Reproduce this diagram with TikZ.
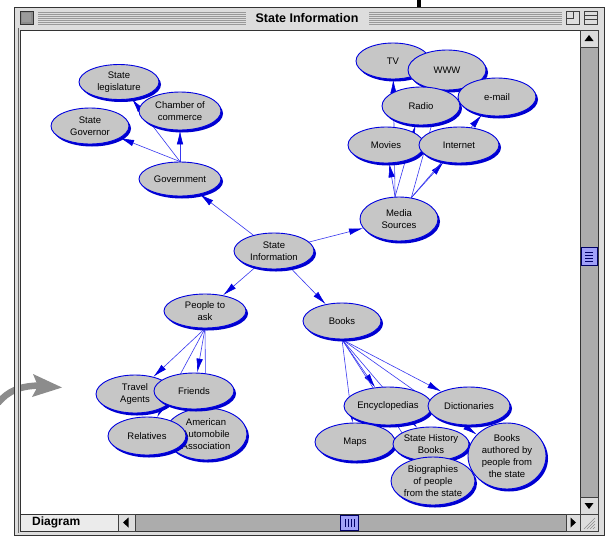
\documentclass[tikz,border=0pt]{standalone}
\usepackage{fontspec}
\setmainfont{Liberation Sans}
\usetikzlibrary{shapes.geometric,shadows,arrows.meta}
\pgfdeclarelayer{chromelayer}
\pgfdeclarelayer{wires}
\pgfsetlayers{chromelayer,wires,main}
\definecolor{nodegray}{HTML}{C6C6C6}
\definecolor{nodeblue}{HTML}{0000E0}
\definecolor{lineblue}{HTML}{3838F0}
\definecolor{shadowblue}{HTML}{0000D0}
\definecolor{chrome}{HTML}{DDDDDD}
\definecolor{track}{HTML}{ACACAC}
\definecolor{thumbc}{HTML}{A0A0F8}
\definecolor{arrowgray}{HTML}{8C8C8C}
\definecolor{stripe}{HTML}{999999}
\tikzset{
  bub/.style={ellipse, draw=nodeblue, line width=0.9pt, fill=nodegray,
    inner xsep=-16pt, inner ysep=-14pt, align=center,
    font=\fontsize{9.5}{11.8}\selectfont,
    drop shadow={shadow xshift=2pt, shadow yshift=-2.5pt, fill=shadowblue, opacity=1}},
  conn/.style={draw=lineblue, line width=0.6pt, -{Latex[length=14pt,width=6.5pt,color=nodeblue]}},
  boxc/.style={fill=chrome, draw=black!75, line width=0.6pt}
}
\newcommand{\bubble}[6]{\node[bub, minimum width=#4pt, minimum height=#5pt] (#1) at (#2,#3) {#6};}
\begin{document}
\begin{tikzpicture}[x=1pt,y=-1pt]
\useasboundingbox (0,0) rectangle (610,536);
\begin{pgfonlayer}{chromelayer}
  % black bar at top
  \fill[black] (417,0) rectangle (421,7);
  % window frame
  \draw[fill=chrome, draw=black!80, line width=1pt] (14,7) rectangle (604,535);
  % title bar stripes
  \foreach \yy in {12,14,...,24} {
    \draw[stripe, line width=0.6pt] (38,\yy) -- (246,\yy);
    \draw[stripe, line width=0.6pt] (369,\yy) -- (562,\yy);
  }
  \node[font=\bfseries\fontsize{12.5}{14}\selectfont, inner sep=0pt] (title) at (307,18) {State Information};
  % close box
  \draw[fill=black!45, draw=black!80, line width=0.6pt] (20,11) rectangle (33,24);
  \draw[fill=chrome!70!black, draw=none] (22,13) rectangle (31,22);
  % zoom and collapse boxes
  \draw[boxc] (566,11) rectangle (579,24);
  \draw[black!75, line width=0.6pt] (566,11) rectangle (573,18);
  \draw[boxc] (584,11) rectangle (597,24);
  \draw[black!75, line width=0.6pt] (584,15.5) -- (597,15.5) (584,19.5) -- (597,19.5);
  % content area
  \draw[fill=white, draw=black!80, line width=1pt] (20,30) rectangle (580,514);
  % gray arrow coming in from the left
  \draw[arrowgray, line width=6.5pt] (-2,403) .. controls (8,391) and (20,385.5) .. (42,385.5);
  \fill[arrowgray] (33,374) -- (62,387.5) -- (32,397) -- (38,386) -- cycle;
  % left frame strip drawn over the arrow
  \fill[chrome] (14.5,300) rectangle (19.5,460);
  \draw[black!80, line width=1pt] (14,7) -- (14,535);
  \draw[black!60, line width=0.8pt] (18,28) -- (18,533);
  \draw[black!80, line width=1pt] (20,30) -- (20,514);
  % vertical scrollbar
  \draw[fill=track, draw=black!80, line width=0.8pt] (580,30) rectangle (598,514);
  \draw[boxc] (580,30) rectangle (598,47);
  \fill[black] (589,35) -- (593.5,41) -- (584.5,41) -- cycle;
  \draw[boxc] (580,497) rectangle (598,514);
  \fill[black] (589,509) -- (593.5,503) -- (584.5,503) -- cycle;
  \draw[fill=thumbc, draw=blue!40!black, line width=0.6pt] (581,247) rectangle (597,265);
  \foreach \yy in {252,255,258,261} { \draw[blue!40!black, line width=0.5pt] (585,\yy) -- (593,\yy); }
  % horizontal scrollbar
  \draw[fill=white!92!black, draw=black!80, line width=0.8pt] (20,514) rectangle (118,531);
  \node[font=\bfseries\fontsize{12}{14}\selectfont, anchor=west, inner sep=0pt] (tab) at (32,522.5) {Diagram};
  \draw[fill=track, draw=black!80, line width=0.8pt] (135,514) rectangle (566,531);
  \draw[boxc] (118,514) rectangle (135,531);
  \fill[black] (123,522.5) -- (128.5,517.5) -- (128.5,527.5) -- cycle;
  \draw[boxc] (566,514) rectangle (580,531);
  \fill[black] (576,522.5) -- (570.5,517.5) -- (570.5,527.5) -- cycle;
  \draw[fill=thumbc, draw=blue!40!black, line width=0.6pt] (340,515) rectangle (358,530);
  \foreach \xx in {345,348,351,354} { \draw[blue!40!black, line width=0.5pt] (\xx,519) -- (\xx,527); }
  \draw[boxc] (580,514) rectangle (598,531);
  \foreach \dd in {0,3,6,9} { \draw[black!45, line width=0.6pt] (584+\dd,529) -- (595,518+\dd); }
\end{pgfonlayer}
% Government group
\bubble{leg}{119}{82}{80}{35}{State\\legislature}
\bubble{chamber}{180}{111}{82}{38}{Chamber of\\commerce}
\bubble{governor}{90}{126}{78}{36}{State\\Governor}
\bubble{gov}{180}{179}{82}{34}{Government}
% centre
\bubble{info}{274}{251}{80}{36}{State\\Information}
\bubble{people}{205}{311}{82}{34}{People to\\ask}
\bubble{books}{342}{321}{78}{36}{Books}
% media group
\bubble{tv}{393}{61}{74}{36}{TV}
\bubble{www}{447}{70}{78}{40}{WWW}
\bubble{radio}{421}{106}{78}{38}{Radio}
\bubble{email}{497}{97}{78}{38}{e-mail}
\bubble{movies}{386}{145}{76}{36}{Movies}
\bubble{internet}{459}{145}{80}{36}{Internet}
\bubble{media}{399}{219}{78}{44}{Media\\Sources}
% people group
\bubble{aaa}{206}{434}{82}{52}{American\\Automobile\\Association}
\bubble{travel}{135}{394}{78}{38}{Travel\\Agents}
\bubble{relatives}{147}{436}{78}{38}{Relatives}
\bubble{friends}{194}{391}{80}{36}{Friends}
% books group
\bubble{encyc}{388}{406}{88}{38}{Encyclopedias}
\bubble{dict}{469}{406}{82}{38}{Dictionaries}
\bubble{maps}{355}{442}{80}{38}{Maps}
\bubble{history}{431}{444}{76}{34}{State History\\Books}
\bubble{authored}{507}{456}{78}{66}{Books\\authored by\\people from\\the state}
\bubble{bio}{433}{481}{84}{48}{Biographies\\of people\\from the state}
\begin{pgfonlayer}{wires}
  \draw[conn] (gov.north) -- (leg);
  \draw[conn] (gov.north) -- (chamber);
  \draw[conn] (gov.north) -- (governor);
  \draw[conn] (info) -- (gov);
  \draw[conn] (info) -- (media);
  \draw[conn] (info) -- (people);
  \draw[conn] (info) -- (books);
  \draw[conn] (media.100) -- (movies);
  \draw[conn] (media.100) -- (tv);
  \draw[conn] (media.100) -- (radio);
  \draw[conn] (media.60) -- (internet);
  \draw[conn] (media.60) -- (www);
  \draw[conn] (media.60) -- (email);
  \draw[conn] (people.south) -- (travel);
  \draw[conn] (people.south) -- (friends);
  \draw[conn] (people.south) -- (relatives);
  \draw[conn] (people.south) -- (aaa);
  \draw[conn] (books.south) -- (encyc);
  \draw[conn] (books.south) -- (dict);
  \draw[conn] (books.south) -- (maps);
  \draw[conn] (books.south) -- (history);
  \draw[conn] (books.south) -- (bio);
  \draw[conn] (books.south) -- (authored);
\end{pgfonlayer}
\end{tikzpicture}
\end{document}
